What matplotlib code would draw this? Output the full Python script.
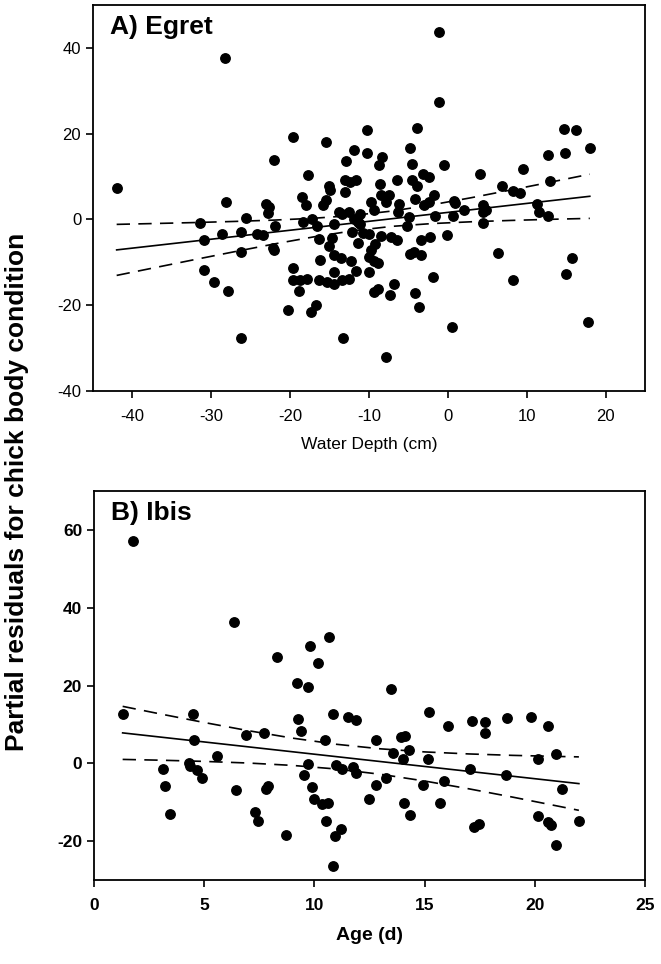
import numpy as np
import matplotlib
matplotlib.use("Agg")
import matplotlib.pyplot as plt

plt.rcParams['font.family'] = ['Liberation Sans', 'DejaVu Sans']
plt.rcParams['axes.unicode_minus'] = False

# ---- Panel A: Egret, partial residuals vs water depth ----
egret_depth = [-42.0, -28.2, -22.1, -28.1, -1.1, -1.1, -19.6, -15.4, -10.2, -3.9,
               -11.9, -10.2, -4.8, -12.9, -8.3, -8.7, -4.5, -0.5, -17.7, -15.1,
               -14.9, -13.1, -12.4, -11.6, -13.1, -8.6, -6.5, -4.5, -3.9, -3.1,
               -2.4, -1.8, -18.5, -15.5, -8.5, -7.5, -4.2, 0.8, 14.7, 16.2,
               18.0, 12.7, 14.9, 9.5, 4.1, 6.9, 8.2, 9.1, 12.9, -23.0,
               -22.7, -22.8, -25.6, -31.4, -21.9, -30.9, -28.6, -26.2, -24.2, -23.5,
               -26.2, -22.2, -22.0, -30.9, -29.6, -27.9, -26.2, -18.0, -15.8, -9.8,
               -7.9, -6.2, -3.0, -2.4, 0.9, -13.8, -13.4, -12.6, -11.1, -9.4,
               -6.3, -18.4, -17.2, -16.6, -14.5, -11.9, -11.4, -11.1, -4.9, -1.6,
               0.7, -5.2, -12.2, -10.7, -10.0, -8.5, -16.3, -14.7, -7.2, -6.4,
               -3.4, -2.3, -0.1, -15.1, -11.4, -9.2, -9.8, -10.0, -9.4, -8.8,
               -10.0, -14.5, -13.5, -12.3, -11.7, -14.5, -16.2, -19.7, -19.7, -18.8,
               -17.8, -16.4, -15.3, -14.4, -13.4, -12.5, -18.9, -20.3, -17.3, -16.7,
               -13.3, -9.4, -8.8, -7.4, -6.8, -4.8, -4.3, -3.4, -1.9, -4.2,
               -3.6, -7.9, 0.5, 2.1, 4.5, 4.8, 4.4, 4.5, 11.3, 11.5,
               12.7, 6.3, 8.2, 15.8, 15.0, 17.8]
egret_resid = [7.4, 37.6, 13.8, 4.0, 43.7, 27.4, 19.2, 18.0, 20.8, 21.3,
               16.3, 15.6, 16.6, 13.6, 14.5, 12.8, 13.0, 12.6, 10.3, 7.9,
               6.8, 9.1, 8.7, 9.3, 6.4, 8.3, 9.3, 9.1, 7.9, 10.7,
               9.9, 5.8, 5.2, 4.6, 5.6, 5.8, 4.8, 4.4, 21.2, 20.9,
               16.7, 15.1, 15.5, 11.8, 10.6, 7.9, 6.6, 6.2, 9.0, 3.5,
               2.9, 1.5, 0.3, -0.9, -1.6, -4.7, -3.5, -2.9, -3.3, -3.7,
               -7.6, -6.6, -7.2, -11.7, -14.6, -16.6, -27.7, 3.3, 3.3, 4.0,
               4.0, 3.7, 3.3, 4.0, 3.8, 1.7, 1.3, 1.7, 1.3, 2.1,
               1.7, -0.6, 0.2, -1.6, -1.0, 0.2, -0.6, -1.0, 0.5, 0.9,
               0.9, -1.6, -3.0, -3.2, -3.5, -3.9, -4.5, -4.3, -4.1, -4.7,
               -4.7, -4.0, -3.7, -6.3, -5.4, -5.7, -7.2, -8.8, -9.6, -10.2,
               -12.3, -8.4, -8.9, -9.6, -12.1, -12.3, -9.4, -11.4, -14.1, -14.1,
               -13.9, -14.2, -14.6, -15.0, -14.1, -13.8, -16.7, -21.0, -21.5, -19.9,
               -27.6, -17.0, -16.3, -17.6, -15.0, -8.0, -7.5, -8.4, -13.5, -17.1,
               -20.5, -32.1, -25.1, 2.1, 3.3, 2.3, 1.7, -0.9, 3.7, 1.7,
               0.9, -7.9, -14.2, -8.9, -12.8, -23.8]

# fitted line and 95% CI
egret_fit_x = [-42, -37, -32, -27, -22, -17, -12, -7, -2, 3, 8, 13, 18]
egret_fit = [-7.10, -6.06, -5.02, -3.98, -2.93, -1.89, -0.85, 0.19, 1.23, 2.27, 3.32, 4.36, 5.40]
egret_upper = [-1.15, -0.94, -0.72, -0.46, -0.15, 0.28, 0.93, 1.98, 3.42, 5.08, 6.87, 8.69, 10.55]
egret_lower = [-13.05, -11.18, -9.32, -7.50, -5.71, -4.06, -2.63, -1.60, -0.96, -0.54, -0.23, 0.03, 0.25]

# ---- Panel B: Ibis, partial residuals vs age ----
ibis_age = [1.76, 6.36, 8.32, 9.80, 10.67, 10.17, 9.19, 9.69, 1.30, 4.49,
            9.27, 10.85, 11.53, 11.91, 13.46, 15.20, 16.05, 17.15, 17.76, 17.76,
            18.74, 19.83, 20.58, 4.52, 6.90, 7.71, 9.37, 10.50, 5.57, 3.13,
            3.24, 3.46, 4.29, 4.34, 4.67, 4.89, 6.45, 7.79, 7.88, 7.31,
            7.43, 8.71, 9.69, 9.54, 9.87, 9.99, 10.35, 10.60, 10.52, 10.97,
            11.26, 10.93, 11.19, 10.85, 11.76, 11.88, 12.48, 12.81, 13.91, 14.10,
            13.57, 14.29, 14.02, 15.15, 17.04, 18.70, 20.16, 20.96, 13.27, 12.78,
            14.92, 15.90, 14.06, 14.32, 15.72, 17.23, 17.46, 20.13, 20.58, 20.73,
            20.96, 21.23, 22.01]
ibis_resid = [57.2, 36.3, 27.4, 30.2, 32.4, 25.9, 20.7, 19.6, 12.6, 12.7,
              11.3, 12.6, 12.0, 11.1, 19.0, 13.3, 9.7, 10.8, 10.6, 7.8,
              11.7, 12.0, 9.6, 5.9, 7.2, 7.7, 8.3, 6.1, 1.8, -1.4,
              -5.7, -13.0, 0.1, -0.8, -1.6, -3.8, -6.8, -6.5, -5.7, -12.4,
              -14.7, -18.3, -0.2, -2.9, -6.2, -9.1, -10.5, -10.1, -14.7, -0.5,
              -1.4, -18.6, -16.9, -26.4, -1.0, -2.5, -9.1, 5.9, 6.8, 7.0,
              2.7, 3.5, 1.1, 1.1, -1.4, -2.9, 1.1, 2.4, -3.8, -5.5,
              -5.5, -4.5, -10.3, -13.4, -10.3, -16.3, -15.6, -13.5, -15.0, -15.8,
              -21.0, -6.5, -14.8]

ibis_fit_x = [1.3, 3, 5, 7, 9, 11, 13, 15, 17, 19, 21, 22]
ibis_fit = [7.83, 6.76, 5.50, 4.24, 2.98, 1.72, 0.46, -0.80, -2.06, -3.32, -4.58, -5.21]
ibis_upper = [14.65, 12.71, 10.50, 8.40, 6.49, 4.90, 3.73, 2.94, 2.42, 2.05, 1.78, 1.66]
ibis_lower = [1.01, 0.81, 0.50, 0.08, -0.53, -1.46, -2.81, -4.54, -6.54, -8.69, -10.94, -12.08]


def residual_panel(ax, x, y, fx, fy, up, lo, labelsize):
    ax.plot(x, y, 'o', color='black', ms=6.8, mec='black', zorder=3)
    ax.plot(fx, fy, '-', color='black', lw=1.2)
    for band in (up, lo):
        ax.plot(fx, band, color='black', lw=1.2, dashes=(8, 5))
    for s in ax.spines.values():
        s.set_linewidth(1.3)
    ax.tick_params(direction='out', length=5, width=1.2, labelsize=labelsize,
                   top=False, right=False)
    ax.tick_params(axis='x', pad=8)


fig = plt.figure(figsize=(6.61, 9.64), dpi=100)

axA = fig.add_axes([0.1407, 0.5944, 0.8351, 0.4004])
residual_panel(axA, egret_depth, egret_resid, egret_fit_x, egret_fit, egret_upper, egret_lower, 12)
axA.set_xlim(-45, 25)
axA.set_ylim(-40, 50)
axA.set_xticks(np.arange(-40, 21, 10))
axA.set_yticks(np.arange(-40, 41, 20))
axA.set_xlabel('Water Depth (cm)', fontsize=12.5, labelpad=9)
axA.text(0.03, 0.975, 'A) Egret', transform=axA.transAxes, ha='left', va='top',
         fontsize=19, fontweight='bold')

axB = fig.add_axes([0.1422, 0.0871, 0.8336, 0.4035])
residual_panel(axB, ibis_age, ibis_resid, ibis_fit_x, ibis_fit, ibis_upper, ibis_lower, 12.5)
axB.set_xlim(0, 25)
axB.set_ylim(-30, 70)
axB.set_xticks(np.arange(0, 26, 5))
axB.set_yticks(np.arange(-20, 61, 20))
for lab in axB.get_xticklabels() + axB.get_yticklabels():
    lab.set_fontweight('bold')
axB.set_xlabel('Age (d)', fontsize=14, fontweight='bold', labelpad=10)
axB.text(0.03, 0.975, 'B) Ibis', transform=axB.transAxes, ha='left', va='top',
         fontsize=19, fontweight='bold')

fig.text(0.025, 0.49, 'Partial residuals for chick body condition', rotation=90,
         ha='center', va='center', fontsize=19, fontweight='bold')

fig.savefig('out.png', dpi=100)
